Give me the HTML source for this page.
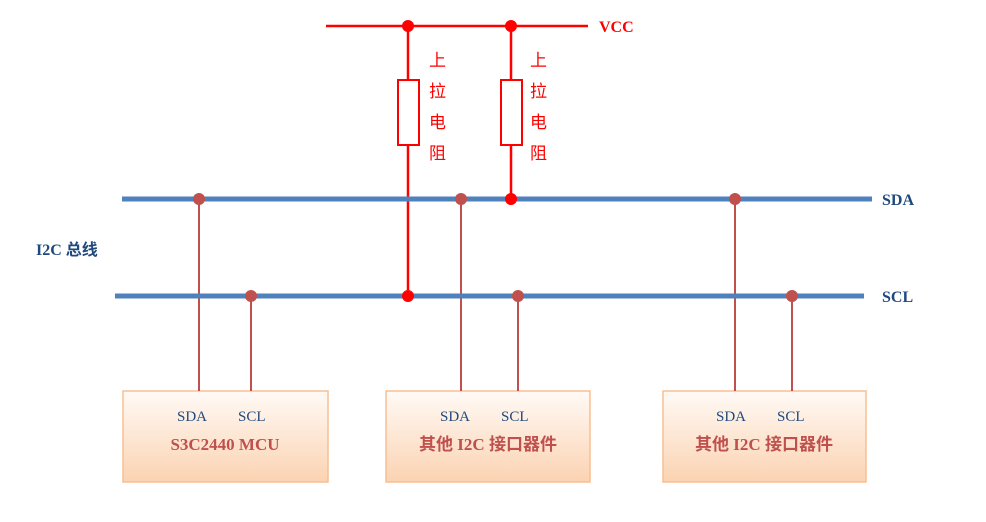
<!DOCTYPE html>
<html><head><meta charset="utf-8"><style>
body{margin:0;background:#fff;width:986px;height:517px;overflow:hidden}
</style></head><body>
<svg width="986" height="517" xmlns="http://www.w3.org/2000/svg" font-family="Liberation Serif, 'Noto Serif CJK SC', serif">
<defs>
<linearGradient id="g" x1="0" y1="0" x2="0" y2="1"><stop offset="0" stop-color="#fffaf6"/><stop offset="1" stop-color="#fbd3b2"/></linearGradient>
</defs>
<g fill="url(#g)" stroke="#f8bf94" stroke-width="1.5">
<rect x="123" y="391" width="205" height="91"/>
<rect x="386" y="391" width="204" height="91"/>
<rect x="663" y="391" width="203" height="91"/>
</g>
<g stroke="#c0504d" stroke-width="2">
<line x1="199" y1="199" x2="199" y2="391"/><line x1="251" y1="296" x2="251" y2="391"/>
<line x1="461" y1="199" x2="461" y2="391"/><line x1="518" y1="296" x2="518" y2="391"/>
<line x1="735" y1="199" x2="735" y2="391"/><line x1="792" y1="296" x2="792" y2="391"/>
</g>
<g stroke="#ff0000" stroke-width="2.5" fill="#fff">
<line x1="326" y1="26" x2="588" y2="26"/>
<line x1="408" y1="26" x2="408" y2="296"/>
<line x1="511" y1="26" x2="511" y2="199"/>
<rect x="398" y="80" width="21" height="65" stroke-width="2"/>
<rect x="501" y="80" width="21" height="65" stroke-width="2"/>
</g>
<g stroke="#4f81bd" stroke-width="5">
<line x1="122" y1="199" x2="872" y2="199"/>
<line x1="115" y1="296" x2="864" y2="296"/>
</g>
<g fill="#c0504d">
<circle cx="199" cy="199" r="6"/><circle cx="251" cy="296" r="6"/>
<circle cx="461" cy="199" r="6"/><circle cx="518" cy="296" r="6"/>
<circle cx="735" cy="199" r="6"/><circle cx="792" cy="296" r="6"/>
</g>
<g fill="#ff0000">
<circle cx="408" cy="26" r="6"/><circle cx="511" cy="26" r="6"/>
<circle cx="408" cy="296" r="6"/><circle cx="511" cy="199" r="6"/>
</g>
<text x="599" y="32" font-size="16" font-weight="bold" fill="#ff0000">VCC</text>
<g fill="#ff0000" font-size="17" font-family="'Noto Sans CJK SC', sans-serif">
<text x="429" y="66">上</text><text x="429" y="97">拉</text><text x="429" y="128">电</text><text x="429" y="159">阻</text>
<text x="530" y="66">上</text><text x="530" y="97">拉</text><text x="530" y="128">电</text><text x="530" y="159">阻</text>
</g>
<g fill="#1f497d" font-size="16" font-weight="bold">
<text x="882" y="205">SDA</text><text x="882" y="302">SCL</text>
<text x="36" y="255">I2C <tspan font-family="'Noto Sans CJK SC', sans-serif">总线</tspan></text>
</g>
<g fill="#1f497d" font-size="15">
<text x="177" y="421">SDA</text><text x="238" y="421">SCL</text>
<text x="440" y="421">SDA</text><text x="501" y="421">SCL</text>
<text x="716" y="421">SDA</text><text x="777" y="421">SCL</text>
</g>
<g fill="#c0504d" font-size="17" font-weight="bold" font-family="'Liberation Serif','Noto Sans CJK SC',sans-serif">
<text x="225" y="450" text-anchor="middle">S3C2440 MCU</text>
<text x="488" y="450" text-anchor="middle">其他 I2C 接口器件</text>
<text x="764" y="450" text-anchor="middle">其他 I2C 接口器件</text>
</g>
</svg>
</body></html>
